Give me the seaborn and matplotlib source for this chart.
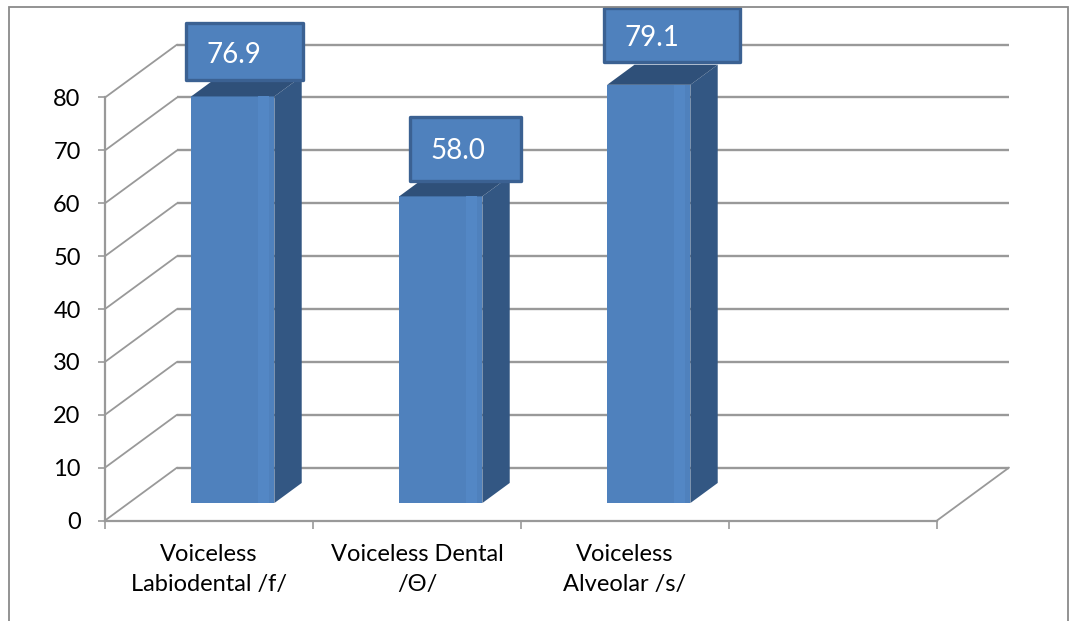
import numpy as np
import pandas as pd
import matplotlib
matplotlib.use("Agg")
import matplotlib.pyplot as plt
import matplotlib.transforms as mtransforms
from matplotlib.patches import Rectangle, Polygon
import seaborn as sns

# ---- data -------------------------------------------------------------
categories = ["Voiceless\nLabiodental /f/", "Voiceless Dental\n/Θ/", "Voiceless\nAlveolar /s/"]
values = [76.9, 58.0, 79.1]
value_labels = ["76.9", "58.0", "79.1"]
y_ticks = [0, 10, 20, 30, 40, 50, 60, 70, 80]

# ---- layout -----------------------------------------------------------
N_SLOTS = 4                 # three categories plus one empty slot
DEPTH_X = 72 / 208          # oblique shift of the back wall (category units)
DEPTH_Y = 10.0              # oblique shift of the back wall (value units)
BAR_Z0, BAR_Z1 = 0.33, 0.71 # front / back of the columns as a fraction of floor depth
BAR_WIDTH = 0.40

# value-label boxes: (left, right, text x) relative to the category,
# (bottom, top, text y) relative to the bar value
BOX_X = [(-0.111, 0.452, 0.118), (-0.034, 0.500, 0.197), (-0.101, 0.553, 0.130)]
BOX_Y = [(6.4, 17.2, 11.6), (6.2, 18.3, 12.4), (7.6, 17.9, 12.6)]

FRONT = "#4f81bd"
FRONT_LIGHT = "#5387c5"
SIDE = "#335783"
TOP = "#2f5079"
BOX_EDGE = "#3b6192"
GRID = "#999999"
FRAME = "#8a8a8a"

sns.set_theme(style="white")
plt.rcParams["font.family"] = ["Lato", "DejaVu Sans"]

W, H = 1071, 621
fig = plt.figure(figsize=(W / 100, H / 100), dpi=100)
fig.patch.set_facecolor("white")
ax = fig.add_axes([105 / W, (H - 520.5) / H, 832 / W, 423 / H])
ax.set_facecolor("none")

df = pd.DataFrame({"category": categories, "value": values})
sns.barplot(data=df, x="category", y="value", color=FRONT, saturation=1,
            width=BAR_WIDTH, errorbar=None, linewidth=0, ax=ax)
bars = list(ax.patches)

ax.set_xlim(-0.5, N_SLOTS - 0.5)
ax.set_ylim(0, 80)

# back wall gridlines and side-wall diagonals
x_left, x_right = -0.5, N_SLOTS - 0.5
for v in y_ticks:
    ax.plot([x_left + DEPTH_X, x_right + DEPTH_X], [v + DEPTH_Y, v + DEPTH_Y],
            color=GRID, lw=1.7, clip_on=False, zorder=0.5, solid_capstyle="butt")
    ax.plot([x_left, x_left + DEPTH_X], [v, v + DEPTH_Y],
            color=GRID, lw=1.3, clip_on=False, zorder=0.5)
# right edge of the floor
ax.plot([x_right, x_right + DEPTH_X], [0, DEPTH_Y], color=GRID, lw=1.3,
        clip_on=False, zorder=0.5)

# 3-D columns: shift the front faces into the floor and add side and top faces
fx, fy = BAR_Z0 * DEPTH_X, BAR_Z0 * DEPTH_Y
bx, by = BAR_Z1 * DEPTH_X, BAR_Z1 * DEPTH_Y
for p in bars:
    x0, w, h = p.get_x(), p.get_width(), p.get_height()
    p.set_transform(mtransforms.Affine2D().translate(fx, fy) + ax.transData)
    p.set_clip_on(False)
    p.set_zorder(2)
    # soft highlight near the right edge of the front face
    ax.add_patch(Rectangle((x0 + 0.80 * w + fx, fy), 0.13 * w, h, fc=FRONT_LIGHT,
                           ec="none", clip_on=False, zorder=2.1))
    side = Polygon([(x0 + w + fx, fy), (x0 + w + bx, by),
                    (x0 + w + bx, h + by), (x0 + w + fx, h + fy)],
                   closed=True, fc=SIDE, ec="none", clip_on=False, zorder=2)
    top = Polygon([(x0 + fx, h + fy), (x0 + w + fx, h + fy),
                   (x0 + w + bx, h + by), (x0 + bx, h + by)],
                  closed=True, fc=TOP, ec="none", clip_on=False, zorder=2)
    ax.add_patch(side)
    ax.add_patch(top)

# value labels in boxes
for i, (v, lab) in enumerate(zip(values, value_labels)):
    left, right, tx = BOX_X[i]
    bot, topy, ty = BOX_Y[i]
    ax.add_patch(Rectangle((i + left, v + bot), right - left, topy - bot,
                           fc=FRONT, ec=BOX_EDGE, lw=2.4, joinstyle="round",
                           clip_on=False, zorder=5))
    ax.text(i + tx, v + ty, lab, color="white", fontsize=20, ha="center",
            va="center_baseline", zorder=6, clip_on=False)

# axes, ticks and labels
ax.set_xlabel("")
ax.set_ylabel("")
ax.set_yticks(y_ticks)
ax.set_yticklabels([str(t) for t in y_ticks])
ax.tick_params(axis="y", left=True, length=5, width=1.2, color=GRID, pad=12.5,
               labelsize=17, labelcolor="black", direction="out")
ax.set_xticks(range(len(categories)))
ax.set_xticklabels(categories, linespacing=1.55)
ax.set_xticks(np.arange(-0.5, N_SLOTS, 1.0), minor=True)
ax.tick_params(axis="x", which="major", length=0, pad=17, labelsize=17,
               labelcolor="black")
ax.tick_params(axis="x", which="minor", bottom=True, length=5.5, width=1.2,
               color=GRID, direction="out")
for s in ["top", "right"]:
    ax.spines[s].set_visible(False)
for s in ["left", "bottom"]:
    ax.spines[s].set_color(GRID)
    ax.spines[s].set_linewidth(1.6)
ax.grid(False)

# outer chart frame
fig.add_artist(Rectangle((9 / W, -0.02), (1068 - 9) / W, (H - 6.5) / H + 0.02,
                         transform=fig.transFigure, fill=False, ec=FRAME, lw=1.3))

fig.savefig("out.png", dpi=100, facecolor="white")
